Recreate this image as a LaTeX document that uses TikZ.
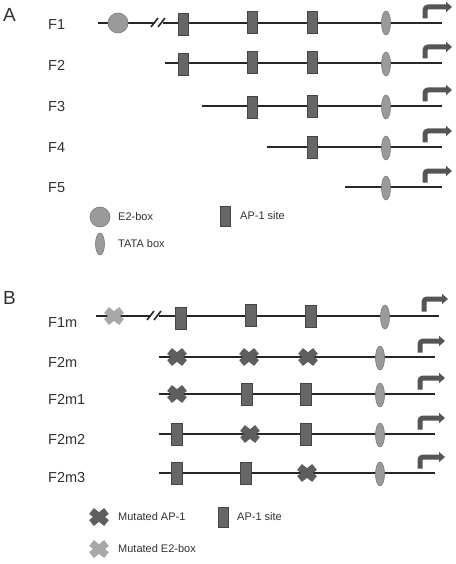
\documentclass[tikz,border=0pt]{standalone}
\usepackage{fontspec}
\setmainfont{Liberation Sans}
\usetikzlibrary{shapes.geometric,arrows.meta}
\definecolor{txt}{HTML}{303030}
\definecolor{apfill}{HTML}{666666}
\definecolor{apdraw}{HTML}{454545}
\definecolor{lgfill}{HTML}{9A9A9A}
\definecolor{lgdraw}{HTML}{7A7A7A}
\definecolor{mutdark}{HTML}{5E5E5E}
\definecolor{mutlight}{HTML}{A8A8A8}
\definecolor{arr}{HTML}{555555}
\tikzset{
  dna/.style={line width=1.8pt, draw=black!85},
  apsite/.style={draw=apdraw, fill=apfill, rectangle, minimum width=10.5pt, minimum height=22pt, inner sep=0pt, line width=0.6pt},
  e2box/.style={circle, draw=lgdraw, fill=lgfill, minimum size=20pt, inner sep=0pt, line width=0.6pt},
  tatabox/.style={ellipse, draw=lgdraw, fill=lgfill, minimum width=9pt, minimum height=24pt, inner sep=0pt, line width=0.6pt},
  rowlabel/.style={anchor=west, text=txt, font=\fontsize{14.5}{16}\selectfont, inner sep=0pt},
  legtext/.style={anchor=west, text=txt, font=\fontsize{11}{13}\selectfont, inner sep=0pt},
  panel/.style={anchor=west, text=txt, font=\fontsize{19}{21}\selectfont, inner sep=0pt},
  tss/.style={line width=5pt, draw=arr, rounded corners=3pt, -{Triangle[length=6pt,width=10pt]}},
  brk/.style={line width=1.6pt, draw=black!85},
  mutx/.pic={\draw[#1, line width=7.5pt, line cap=butt, line join=round] (-7.5,-6)--(7.5,6) (-7.5,6)--(7.5,-6);},
}
\begin{document}
\begin{tikzpicture}[x=1pt,y=-1pt]
\useasboundingbox (0,0) rectangle (455,564);
% ---------- Panel A ----------
\node[panel] (pA) at (3,15) {A};
% labels
\node[rowlabel] (lF1) at (48,25) {F1};
\node[rowlabel] (lF2) at (48,65) {F2};
\node[rowlabel] (lF3) at (48,107) {F3};
\node[rowlabel] (lF4) at (48,148) {F4};
\node[rowlabel] (lF5) at (48,188) {F5};
% DNA lines
\coordinate (a1s) at (98,23);  \coordinate (a1b) at (155,23);
\coordinate (a1c) at (163,23); \coordinate (a1e) at (442,23);
\draw[dna] (a1s) -- (a1b); \draw[dna] (a1c) -- (a1e);
\draw[brk] (151,27) -- (158,18); \draw[brk] (158,27) -- (165,18);
\coordinate (a2s) at (165,63); \coordinate (a2e) at (442,63);
\coordinate (a3s) at (202,106); \coordinate (a3e) at (442,106);
\coordinate (a4s) at (267,147); \coordinate (a4e) at (442,147);
\coordinate (a5s) at (345,187); \coordinate (a5e) at (442,187);
\draw[dna] (a2s) -- (a2e);
\draw[dna] (a3s) -- (a3e);
\draw[dna] (a4s) -- (a4e);
\draw[dna] (a5s) -- (a5e);
% elements F1
\node[e2box] (f1e2) at (118,23) {};
\node[apsite] (f1a1) at (183.5,24) {};
\node[apsite] (f1a2) at (252.5,22) {};
\node[apsite] (f1a3) at (312.5,22) {};
\node[tatabox] (f1t) at (386,23) {};
% F2
\node[apsite] (f2a1) at (183.5,64) {};
\node[apsite] (f2a2) at (252.5,62) {};
\node[apsite] (f2a3) at (312.5,62) {};
\node[tatabox] (f2t) at (386,64) {};
% F3
\node[apsite] (f3a2) at (252.5,107) {};
\node[apsite] (f3a3) at (312.5,106) {};
\node[tatabox] (f3t) at (386,107) {};
% F4
\node[apsite] (f4a3) at (312.5,147) {};
\node[tatabox] (f4t) at (386,148) {};
% F5
\node[tatabox] (f5t) at (386,188) {};
% TSS arrows
\foreach \y in {23,63,106,147,187}{
  \draw[tss] (425,\y-4.5) -- (425,\y-16) -- (452,\y-16);
}
% legend A
\node[e2box] (lge2) at (100,217) {};
\node[legtext] (lge2t) at (118,217) {E2-box};
\node[apsite, minimum width=10pt, minimum height=20pt] (lgap) at (225,216) {};
\node[legtext] (lgapt) at (240,216) {AP-1 site};
\node[tatabox, minimum height=22pt] (lgt) at (100,244) {};
\node[legtext] (lgtt) at (118,244) {TATA box};
% ---------- Panel B ----------
\node[panel] (pB) at (3,298) {B};
\node[rowlabel] (lF1m) at (48,323) {F1m};
\node[rowlabel] (lF2m) at (48,362) {F2m};
\node[rowlabel] (lF2m1) at (48,399) {F2m1};
\node[rowlabel] (lF2m2) at (48,439) {F2m2};
\node[rowlabel] (lF2m3) at (48,478) {F2m3};
\coordinate (b1s) at (96,316);  \coordinate (b1b) at (151,316);
\coordinate (b1c) at (159,316); \coordinate (b1e) at (439,316);
\draw[dna] (b1s) -- (b1b); \draw[dna] (b1c) -- (b1e);
\draw[brk] (147,320) -- (154,311); \draw[brk] (154,320) -- (161,311);
\coordinate (b2s) at (159,357); \coordinate (b2e) at (435,357);
\coordinate (b3s) at (159,394); \coordinate (b3e) at (435,394);
\coordinate (b4s) at (159,434); \coordinate (b4e) at (435,434);
\coordinate (b5s) at (159,473); \coordinate (b5e) at (435,473);
\draw[dna] (b2s) -- (b2e);
\draw[dna] (b3s) -- (b3e);
\draw[dna] (b4s) -- (b4e);
\draw[dna] (b5s) -- (b5e);
% F1m
\pic at (114,316) {mutx=mutlight};
\node[apsite] (m1a1) at (181,318) {};
\node[apsite] (m1a2) at (251,315) {};
\node[apsite] (m1a3) at (311,316) {};
\node[tatabox] (m1t) at (385,317) {};
% F2m
\pic at (177,357) {mutx=mutdark};
\pic at (249,357) {mutx=mutdark};
\pic at (308,357) {mutx=mutdark};
\node[tatabox] (m2t) at (380,358) {};
% F2m1
\pic at (177,394) {mutx=mutdark};
\node[apsite] (m3a2) at (247,394) {};
\node[apsite] (m3a3) at (306,394) {};
\node[tatabox] (m3t) at (380,395) {};
% F2m2
\node[apsite] (m4a1) at (177,434) {};
\pic at (250,434) {mutx=mutdark};
\node[apsite] (m4a3) at (306,434) {};
\node[tatabox] (m4t) at (380,435) {};
% F2m3
\node[apsite] (m5a1) at (177,473) {};
\node[apsite] (m5a2) at (246,473) {};
\pic at (307,473) {mutx=mutdark};
\node[tatabox] (m5t) at (380,474) {};
% TSS arrows B
\draw[tss] (424,316-4.5) -- (424,316-17) -- (448,316-17);
\foreach \y in {357,394,434,473}{
  \draw[tss] (420,\y-4.5) -- (420,\y-16) -- (445,\y-16);
}
% legend B
\pic at (99,517) {mutx=mutdark};
\node[legtext] (lgm1t) at (118,517) {Mutated AP-1};
\node[apsite, minimum width=10pt, minimum height=20pt] (lgap2) at (223,517) {};
\node[legtext] (lgap2t) at (237,517) {AP-1 site};
\pic at (99,549) {mutx=mutlight};
\node[legtext] (lgm2t) at (118,549) {Mutated E2-box};
\end{tikzpicture}
\end{document}
